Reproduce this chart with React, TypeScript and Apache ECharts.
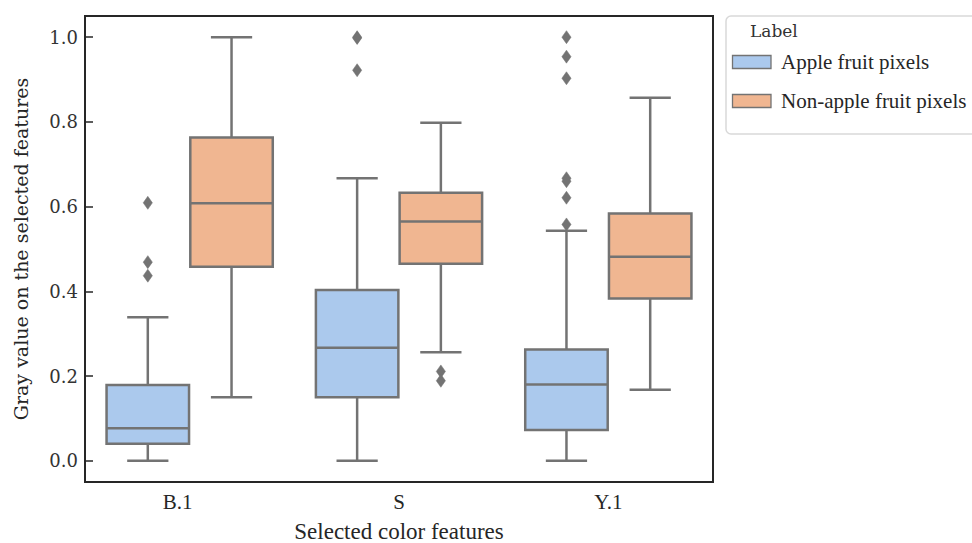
import React, { useEffect, useRef } from 'react';
import * as echarts from 'echarts';

const categories = ['B.1', 'S', 'Y.1'];
const seriesNames = ['Apple fruit pixels', 'Non-apple fruit pixels'];
// [min whisker, Q1, median, Q3, max whisker]
const appleBoxes = [
  [0.0, 0.04, 0.077, 0.179, 0.339],
  [0.0, 0.15, 0.267, 0.403, 0.667],
  [0.0, 0.073, 0.18, 0.263, 0.543],
];
const nonAppleBoxes = [
  [0.15, 0.458, 0.608, 0.763, 1.0],
  [0.256, 0.465, 0.565, 0.633, 0.798],
  [0.168, 0.383, 0.482, 0.584, 0.857],
];
const appleOutliers = [
  [0.609, 0.469, 0.437],
  [1.0, 0.998, 0.922],
  [1.0, 0.954, 0.903, 0.667, 0.66, 0.621, 0.558],
];
const nonAppleOutliers = [[], [0.211, 0.189], []];
const yTicks = [0, 0.2, 0.4, 0.6, 0.8, 1.0];

const TIMES = 'Liberation Serif';
const DEJAVU = 'DejaVu Serif';
const EDGE = '#737373';
const BLUE = '#abc9ed';
const ORANGE = '#f0b691';
const TEXT = '#262626';
const seriesColors = [BLUE, ORANGE];

function boxData(boxes: number[][]) {
  return boxes.map((b, i) => [i, ...b]);
}
function outlierData(outs: number[][]) {
  const res: number[][] = [];
  outs.forEach((arr, i) => arr.forEach((v) => res.push([i, v])));
  return res;
}

function makeBoxRender(offset: number, fill: string) {
  return (params: any, api: any) => {
    const cat = api.value(0);
    const band = api.size([1, 0])[0];
    const cx = api.coord([cat, 0])[0] + offset * band;
    const hw = band * 0.197;
    const y = (v: number) => api.coord([cat, v])[1];
    const mn = y(api.value(1));
    const q1 = y(api.value(2));
    const md = y(api.value(3));
    const q3 = y(api.value(4));
    const mx = y(api.value(5));
    const ls = { stroke: EDGE, lineWidth: 2.5 };
    return {
      type: 'group',
      children: [
        { type: 'line', shape: { x1: cx, y1: q1, x2: cx, y2: mn }, style: ls },
        { type: 'line', shape: { x1: cx, y1: q3, x2: cx, y2: mx }, style: ls },
        { type: 'line', shape: { x1: cx - hw / 2, y1: mn, x2: cx + hw / 2, y2: mn }, style: ls },
        { type: 'line', shape: { x1: cx - hw / 2, y1: mx, x2: cx + hw / 2, y2: mx }, style: ls },
        {
          type: 'rect',
          shape: { x: cx - hw, y: q3, width: 2 * hw, height: q1 - q3 },
          style: { fill, stroke: EDGE, lineWidth: 2.5 },
        },
        { type: 'line', shape: { x1: cx - hw, y1: md, x2: cx + hw, y2: md }, style: ls },
      ],
    };
  };
}

function makeOutlierRender(offset: number) {
  return (params: any, api: any) => {
    const cat = api.value(0);
    const band = api.size([1, 0])[0];
    const p = api.coord([cat, api.value(1)]);
    const cx = p[0] + offset * band;
    const cy = p[1];
    const w = 4.6;
    const h = 6.5;
    return {
      type: 'polygon',
      shape: { points: [[cx, cy - h], [cx + w, cy], [cx, cy + h], [cx - w, cy]] },
      style: { fill: EDGE, stroke: EDGE, lineWidth: 0.5 },
    };
  };
}

export default function App() {
  const ref = useRef<HTMLDivElement>(null);
  useEffect(() => {
    if (!ref.current) return;
    const chart = echarts.init(ref.current, undefined, { renderer: 'svg' });
    const legendItems: any[] = [];
    seriesNames.forEach((name, i) => {
      const cy = 62 + i * 39;
      legendItems.push({
        type: 'rect',
        z: 2,
        shape: { x: 732.5, y: cy - 6.5, width: 38.5, height: 13 },
        style: { fill: seriesColors[i], stroke: EDGE, lineWidth: 1.3 },
      });
      legendItems.push({
        type: 'text',
        z: 2,
        x: 781,
        y: cy,
        style: {
          text: name,
          fontFamily: TIMES,
          fontSize: 21,
          fill: TEXT,
          verticalAlign: 'middle',
        },
      });
    });
    chart.setOption({
      animation: false,
      backgroundColor: '#ffffff',
      textStyle: { fontFamily: TIMES },
      grid: {
        left: 85,
        right: 259,
        top: 16,
        bottom: 61,
        outerBoundsMode: 'none',
        containLabel: false,
        show: true,
        borderColor: '#262626',
        borderWidth: 2,
        backgroundColor: 'transparent',
      },
      xAxis: {
        type: 'category',
        data: categories,
        axisLine: { show: false },
        axisTick: { show: false },
        splitLine: { show: false },
        axisLabel: {
          margin: 9,
          fontFamily: TIMES,
          fontSize: 21,
          color: TEXT,
          formatter: (v: string) => (v === 'B.1' ? '{s|' + v + '}' : v),
          rich: { s: { fontFamily: TIMES, fontSize: 21, color: TEXT, padding: [0, 24, 0, 0] } },
        },
        name: 'Selected color features',
        nameLocation: 'middle',
        nameGap: 38,
        nameTextStyle: { fontFamily: TIMES, fontSize: 23, color: TEXT },
      },
      yAxis: {
        type: 'value',
        min: -0.05,
        max: 1.05,
        axisLine: { show: false },
        splitLine: { show: false },
        axisTick: {
          show: true,
          inside: true,
          length: 8,
          customValues: yTicks,
          lineStyle: { color: '#262626', width: 1.5 },
        },
        axisLabel: {
          customValues: yTicks,
          margin: 7,
          fontFamily: DEJAVU,
          fontSize: 18,
          color: '#333333',
          formatter: (v: number) => v.toFixed(1),
        },
        name: 'Gray value on the selected features',
        nameLocation: 'middle',
        nameGap: 55,
        nameTextStyle: { fontFamily: DEJAVU, fontSize: 19, color: TEXT },
      },
      graphic: [
        {
          type: 'rect',
          z: 0,
          shape: { x: 726, y: 16, width: 270, height: 118, r: 5 },
          style: { fill: '#ffffff', stroke: '#d9d9d9', lineWidth: 1.5 },
        },
        {
          type: 'text',
          z: 1,
          x: 750,
          y: 31,
          style: {
            text: 'Label',
            fontFamily: DEJAVU,
            fontSize: 17,
            fill: '#333333',
            verticalAlign: 'middle',
          },
        },
        ...legendItems,
      ],
      series: [
        {
          name: seriesNames[0],
          type: 'custom',
          renderItem: makeBoxRender(-0.2, BLUE),
          itemStyle: { color: BLUE, borderColor: EDGE },
          encode: { x: 0, y: [1, 2, 3, 4, 5] },
          data: boxData(appleBoxes),
        },
        {
          name: seriesNames[1],
          type: 'custom',
          renderItem: makeBoxRender(0.2, ORANGE),
          itemStyle: { color: ORANGE, borderColor: EDGE },
          encode: { x: 0, y: [1, 2, 3, 4, 5] },
          data: boxData(nonAppleBoxes),
        },
        {
          name: 'apple-outliers',
          type: 'custom',
          renderItem: makeOutlierRender(-0.2),
          encode: { x: 0, y: 1 },
          data: outlierData(appleOutliers),
        },
        {
          name: 'nonapple-outliers',
          type: 'custom',
          renderItem: makeOutlierRender(0.2),
          encode: { x: 0, y: 1 },
          data: outlierData(nonAppleOutliers),
        },
      ],
    });
    return () => chart.dispose();
  }, []);
  return <div ref={ref} style={{ width: 972, height: 543, position: 'absolute', left: 0, top: 0 }} />;
}
